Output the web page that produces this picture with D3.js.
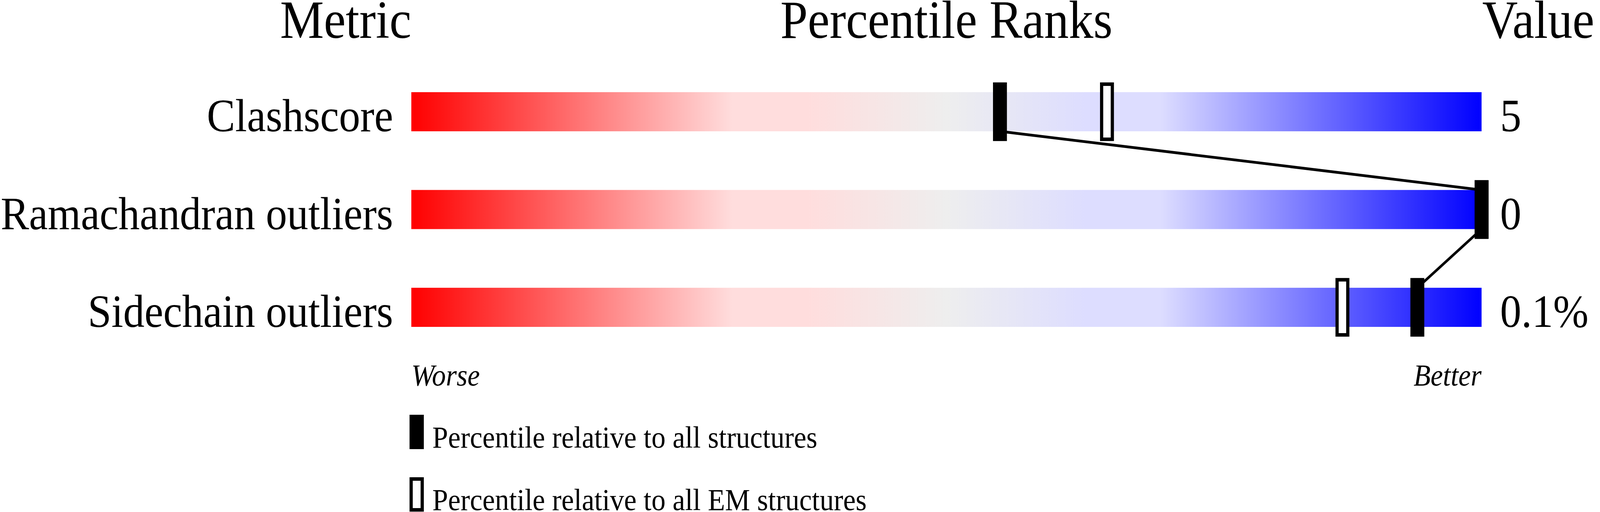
<!DOCTYPE html>
<html>
<head>
<meta charset="utf-8">
<script src="https://cdn.jsdelivr.net/npm/d3@7"></script>
<style>
    html, body { margin: 0; padding: 0; width: 100%; height: 100%; overflow: hidden; background: #ffffff; }
    #slider { width: 100%; height: 100%; }
    svg { display: block; }
    text { font-family: "Liberation Serif", "Times New Roman", serif; fill: #000; }
</style>
</head>
<body>
<div id="slider"></div>
<script>
// metric rows, shown values and percentile ranks
let metrics = ["Clashscore", "Ramachandran outliers", "Sidechain outliers"];
let values = ["5", "0", "0.1%"];
let pctAll = [55, 100, 94]; // percentile relative to all structures
let pctEM = [65, 100, 87];  // percentile relative to all EM structures
let legendLabels = ["Percentile relative to all structures", "Percentile relative to all EM structures"];

let width = 4485;
let height = 1311;

let barLeft = 1153; //px
let barRight = 4153; //px
let markW = 39;
let markOver = 25; // marker sticks out above/below the bar

// drawn in a fixed 4485x1311 box, stretched to whatever the window is
let svg = d3.select("#slider")
    .append("svg")
    .attr("viewBox", "0 0 " + width + " " + height)
    .attr("preserveAspectRatio", "none")
    .attr("width", "100%")
    .attr("height", "100%");

let x = d3.scaleLinear()
    .domain([0, 100])
    .range([barLeft, barRight]);

let y = d3.scaleBand()
    .domain(metrics)
    .range([236, 837])
    .paddingInner(0.6)
    .paddingOuter(0);

// gradient worse -> better
let defs = svg.append("defs");
let grad = defs.append("linearGradient")
    .attr("id", "rank-grad")
    .attr("x1", "0%").attr("x2", "100%")
    .attr("y1", "0%").attr("y2", "0%");

[
    [0, "#ff0000"],
    [0.30, "#ffdddd"],
    [0.37, "#ffdddd"],
    [0.50, "#eeeeee"],
    [0.63, "#ddddff"],
    [0.70, "#ddddff"],
    [1, "#0000ff"]
].forEach((s) => {
    grad.append("stop")
        .attr("offset", s[0])
        .attr("stop-color", s[1]);
});

/*---------------
 // headers
 ----------------*/
svg.append("text")
    .attr("x", barLeft)
    .attr("y", 97)
    .style("text-anchor", "end")
    .style("font-size", "138px")
    .text("Metric");

svg.append("text")
    .attr("x", (barLeft + barRight) / 2)
    .attr("y", 97)
    .style("text-anchor", "middle")
    .style("font-size", "138px")
    .text("Percentile Ranks");

svg.append("text")
    .attr("x", barRight + 2)
    .attr("y", 97)
    .style("font-size", "138px")
    .text("Value");

/*---------------
 // rows
 ----------------*/
metrics.forEach((m, i) => {
    let top = y(m);
    let bh = y.bandwidth();

    svg.append("rect")
        .attr("x", x(0))
        .attr("y", top)
        .attr("width", x(100) - x(0))
        .attr("height", bh)
        .attr("fill", "url(#rank-grad)");

    svg.append("text")
        .attr("x", barLeft - 51)
        .attr("y", top + bh)
        .style("text-anchor", "end")
        .style("font-size", "119px")
        .text(m);

    svg.append("text")
        .attr("x", barRight + 52)
        .attr("y", top + bh)
        .style("font-size", "119px")
        .text(values[i]);
});

// lines joining the "all structures" markers
for (let i = 0; i < metrics.length - 1; i++) {
    svg.append("line")
        .attr("x1", x(pctAll[i]))
        .attr("y1", y(metrics[i]) + y.bandwidth())
        .attr("x2", x(pctAll[i + 1]))
        .attr("y2", y(metrics[i + 1]))
        .attr("stroke", "#000")
        .attr("stroke-width", 7);
}

// open markers first, filled ones on top
metrics.forEach((m, i) => {
    let top = y(m) - markOver;
    let h = y.bandwidth() + 2 * markOver;
    svg.append("rect")
        .attr("x", x(pctEM[i]) - markW / 2 + 4.5)
        .attr("y", top + 4.5)
        .attr("width", markW - 9)
        .attr("height", h - 9)
        .attr("fill", "#fff")
        .attr("stroke", "#000")
        .attr("stroke-width", 9);
});

metrics.forEach((m, i) => {
    svg.append("rect")
        .attr("x", x(pctAll[i]) - markW / 2)
        .attr("y", y(m) - markOver)
        .attr("width", markW)
        .attr("height", y.bandwidth() + 2 * markOver)
        .attr("fill", "#000");
});

/*---------------
 // worse / better
 ----------------*/
svg.append("text")
    .attr("x", barLeft)
    .attr("y", 987)
    .style("font-size", "78px")
    .style("font-style", "italic")
    .text("Worse");

svg.append("text")
    .attr("x", barRight)
    .attr("y", 987)
    .style("text-anchor", "end")
    .style("font-size", "78px")
    .style("font-style", "italic")
    .text("Better");

/*---------------
 // legend
 ----------------*/
let legendTop = [1062, 1222];

svg.append("rect")
    .attr("x", barLeft - 5)
    .attr("y", legendTop[0])
    .attr("width", 40)
    .attr("height", 88)
    .attr("fill", "#000");

svg.append("rect")
    .attr("x", barLeft - 5 + 4.5)
    .attr("y", legendTop[1] + 4.5)
    .attr("width", 31)
    .attr("height", 79)
    .attr("fill", "#fff")
    .attr("stroke", "#000")
    .attr("stroke-width", 9);

legendLabels.forEach((l, i) => {
    svg.append("text")
        .attr("x", barLeft + 59)
        .attr("y", legendTop[i] + 84)
        .style("font-size", "79px")
        .text(l);
});
</script>
</body>
</html>
